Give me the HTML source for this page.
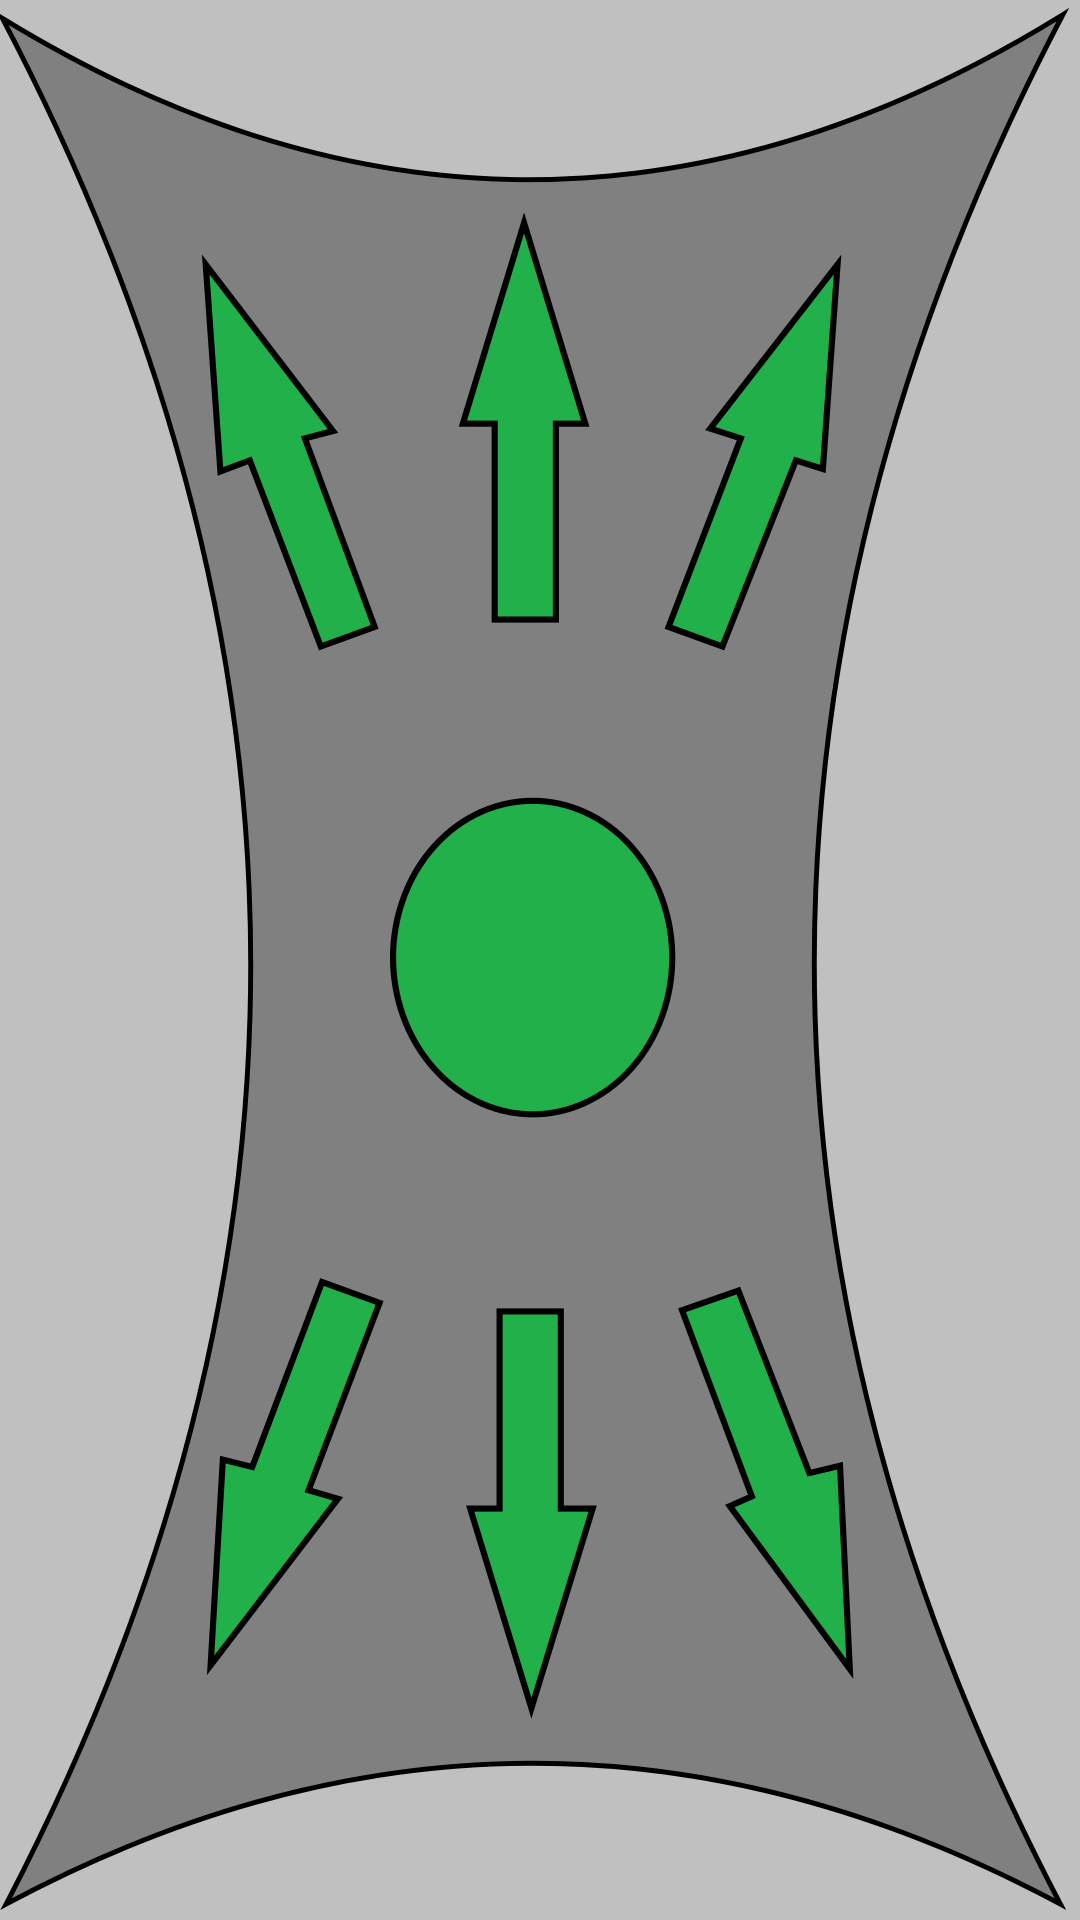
<!DOCTYPE html>
<html><head><meta charset="utf-8"><style>html,body{margin:0;padding:0;background:#c0c0c0;width:1080px;height:1920px;overflow:hidden}svg{display:block}</style></head>
<body>
<svg width="1080" height="1920" viewBox="0 0 882 1568" preserveAspectRatio="none" xmlns="http://www.w3.org/2000/svg">
<rect x="0" y="0" width="882" height="1568" fill="#c0c0c0"/>
<path d="M2,15 Q435,280 868,12 Q463,785 866,1555 Q435,1325 5,1555 Q406,785 2,15 Z" fill="#808080" stroke="#000" stroke-width="4"/>
<ellipse cx="435" cy="782" rx="114" ry="128" fill="#22b04b" stroke="#000" stroke-width="5"/>
<g fill="#22b04b" stroke="#000" stroke-width="5" stroke-linejoin="miter">
<polygon points="428,182 478,346 454,346 454,506 404,506 404,346 378,346"/>
<polygon points="168,216 272,352 249,358 306,512 262,528 204,376 180,385"/>
<polygon points="684,216 672,383 650,376 590,528 546,512 605,358 580,350"/>
<polygon points="408,1071 458,1071 458,1232 484,1232 434,1395 384,1232 408,1232"/>
<polygon points="263,1047 310,1064 252,1217 276,1224 172,1360 182,1192 206,1198"/>
<polygon points="557,1070 603,1054 661,1203 686,1197 694,1363 596,1230 614,1222"/>
</g>
</svg>
</body></html>
